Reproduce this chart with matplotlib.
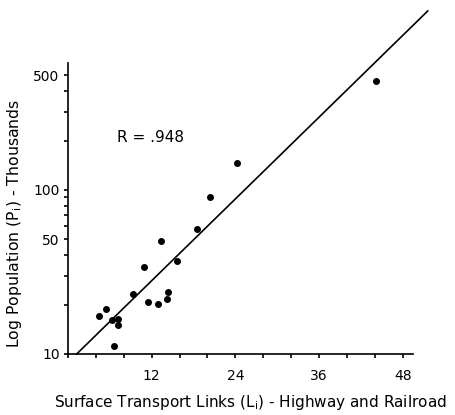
import numpy as np
import matplotlib.pyplot as plt
from matplotlib.ticker import FixedLocator, NullFormatter

# transport links vs population (thousands)
links = [4.4, 5.5, 6.3, 7.2, 7.2, 6.6, 9.4, 10.9, 11.5, 12.9, 13.3, 14.2, 14.4,
         15.6, 18.5, 20.4, 24.3, 44.2]
pop = [17.1, 18.7, 16.1, 16.3, 15.0, 11.2, 23.2, 33.8, 20.8, 20.2, 48.9, 21.5,
       24.0, 37.1, 57.6, 90.6, 146.7, 460]

# fitted line endpoints (log scale)
fit_x = [1.25, 51.6]
fit_y = [10, 1235]

plt.rcParams['font.family'] = ['DejaVu Sans']

fig = plt.figure(figsize=(4.56, 4.15), dpi=100)
ax = fig.add_axes([0.149, 0.147, 0.757, 0.701])

ax.plot(links, pop, 'o', color='black', ms=4)
ax.plot(fit_x, fit_y, color='black', lw=1.2, clip_on=False)

ax.set_yscale('log')
ax.set_xlim(0, 49.5)
ax.set_ylim(10, 594)

ax.yaxis.set_major_locator(FixedLocator([10, 50, 100, 500]))
ax.yaxis.set_minor_locator(FixedLocator([20, 30, 40, 60, 70, 80, 90, 200, 300, 400]))
ax.yaxis.set_minor_formatter(NullFormatter())
ax.set_yticklabels(['10', '50', '100', '500'])
ax.set_xticks(np.arange(0, 49, 4))
ax.set_xticklabels(['' if v % 12 or v == 0 else str(v) for v in range(0, 49, 4)])

for s in ['top', 'right']:
    ax.spines[s].set_visible(False)
for s in ['left', 'bottom']:
    ax.spines[s].set_linewidth(1.2)
ax.tick_params(which='both', direction='out', length=3, width=1.2, labelsize=10)
ax.tick_params(axis='x', pad=8)
ax.tick_params(axis='y', pad=3)

ax.text(7.0, 210, 'R = .948', fontsize=11, va='center')

fig.text(250/456, 1-402/415, r'Surface Transport Links (L$_\mathregular{i}$) - Highway and Railroad',
         fontsize=11, ha='center', va='center')
fig.text(15/456, 1-223/415, r'Log Population (P$_\mathregular{i}$) - Thousands',
         fontsize=11.3, ha='center', va='center', rotation=90)

plt.savefig('out.png', dpi=100)
